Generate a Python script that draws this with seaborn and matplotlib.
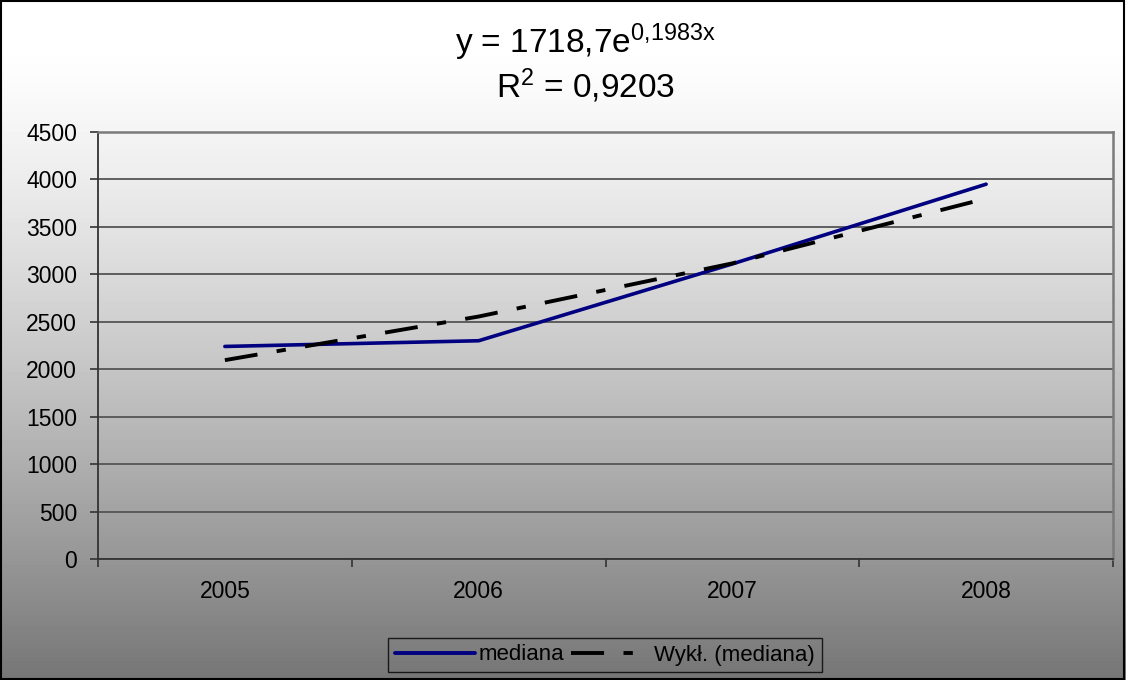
import numpy as np
import pandas as pd
import matplotlib
matplotlib.use("Agg")
import matplotlib.pyplot as plt
from matplotlib.patches import Rectangle
import seaborn as sns

# Median values per year
years = ["2005", "2006", "2007", "2008"]
mediana = [2240, 2300, 3110, 3950]

# Exponential trendline parameters (y = a * e^(b*x), x = 1..n)
trend_a = 1718.7
trend_b = 0.1983
r_squared = "0,9203"

y_ticks = [0, 500, 1000, 1500, 2000, 2500, 3000, 3500, 4000, 4500]

sns.set_style("white")
plt.rcParams["font.family"] = ["Liberation Sans", "DejaVu Sans"]
plt.rcParams["mathtext.fontset"] = "custom"
plt.rcParams["mathtext.rm"] = "Liberation Sans"
plt.rcParams["mathtext.it"] = "Liberation Sans"
plt.rcParams["text.color"] = "black"
plt.rcParams["xtick.color"] = "black"
plt.rcParams["ytick.color"] = "black"
plt.rcParams["legend.labelcolor"] = "black"

pos = np.arange(len(years))
trend = trend_a * np.exp(trend_b * (pos + 1))

df = pd.DataFrame({"pos": np.concatenate([pos, pos]),
                   "value": np.concatenate([mediana, trend]),
                   "series": ["mediana"] * len(years) + ["Wykł. (mediana)"] * len(years)})

fig = plt.figure(figsize=(11.26, 6.8), dpi=100)
fig.patch.set_facecolor("white")

# Vertical white-to-gray gradient behind everything
bg = fig.add_axes([0, 0, 1, 1], zorder=-10)
rows = np.linspace(0, 1, 680)
t = np.clip((rows - 40 / 680) / (1 - 40 / 680), 0, 1)
grad = (1.0 - 0.54 * t ** 1.3).reshape(-1, 1)
bg.imshow(grad, cmap="gray", vmin=0, vmax=1, aspect="auto", extent=[0, 1, 0, 1])
bg.set_axis_off()

ax = fig.add_axes([98 / 1126, 1 - 559 / 680, (1113 - 98) / 1126, (559 - 132) / 680])
ax.set_facecolor("none")

dash_pattern = (8.5, 5.0, 2.4, 5.0)

sns.lineplot(data=df[df.series == "mediana"], x="pos", y="value", ax=ax,
             color="#000080", linewidth=2.6, label="mediana", zorder=3)
sns.lineplot(data=df[df.series != "mediana"], x="pos", y="value", ax=ax,
             color="black", linewidth=2.8, dashes=False, label="Wykł. (mediana)", zorder=4)
trend_line = ax.get_lines()[-1]
trend_line.set_dashes(dash_pattern)

ax.set_xlim(-0.5, len(years) - 0.5)
ax.set_ylim(0, 4500)
ax.set_yticks(y_ticks)
ax.set_yticklabels([str(v) for v in y_ticks], fontsize=16.5, color="black")
ax.set_xticks(np.arange(-0.5, len(years), 1.0))
ax.set_xticklabels([])
ax.set_xticks(pos, minor=True)
ax.set_xticklabels(years, minor=True, fontsize=16.5, color="black")
ax.tick_params(axis="x", which="major", direction="out", length=6, width=1.2,
               color="#333333", bottom=True)
ax.tick_params(axis="x", which="minor", length=0, pad=15)
ax.tick_params(axis="y", direction="out", length=6, width=1.2, color="#333333",
               left=True, pad=9)
ax.set_xlabel("")
ax.set_ylabel("")

ax.yaxis.grid(True, color="#555555", linewidth=1.3)
ax.xaxis.grid(False)
ax.set_axisbelow(True)
for side in ["left", "bottom"]:
    ax.spines[side].set_color("#333333")
    ax.spines[side].set_linewidth(1.3)
for side in ["top", "right"]:
    ax.spines[side].set_color("#7a7a7a")
    ax.spines[side].set_linewidth(1.8)

leg = ax.legend(loc="center", bbox_to_anchor=(605 / 1126, 1 - 655 / 680),
                bbox_transform=fig.transFigure, ncol=2, frameon=True,
                fontsize=16, handlelength=3.6, handletextpad=0.15,
                columnspacing=0.3, borderpad=0.3, fancybox=False)
leg.get_frame().set_facecolor("none")
leg.get_frame().set_edgecolor("black")
leg.get_frame().set_linewidth(1.0)
for h in leg.get_lines():
    h.set_linewidth(2.8)
leg.get_lines()[1].set_dashes(dash_pattern)
for txt in leg.get_texts():
    txt.set_color("black")

# Trendline equation and fit quality
fig.text(585 / 1126, 1 - 42 / 680,
         r"y = 1718,7e$\mathregular{^{0{,}1983x}}$",
         ha="center", va="center", fontsize=24, color="black")
fig.text(586 / 1126, 1 - 86 / 680,
         r"R$\mathregular{^{2}}$ = " + r_squared,
         ha="center", va="center", fontsize=24, color="black")

# Chart border
fig.add_artist(Rectangle((0.0005, 0.001), 0.998, 0.997, transform=fig.transFigure,
                         fill=False, edgecolor="black", linewidth=1.5))

fig.savefig("out.png", dpi=100)
